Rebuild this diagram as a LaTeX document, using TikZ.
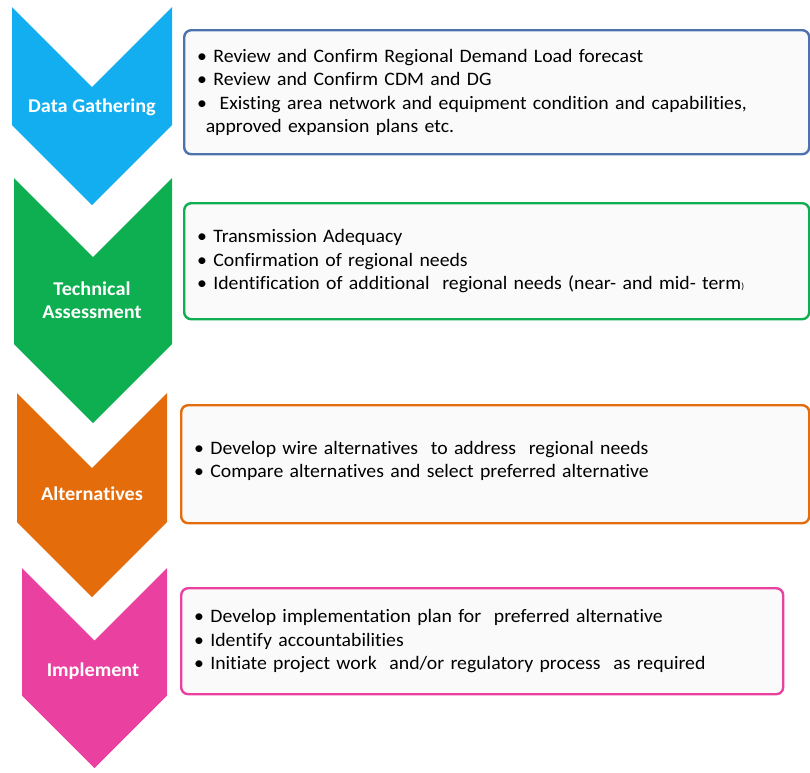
\documentclass[tikz,border=0pt]{standalone}
\usepackage{fontspec}
\setmainfont{Carlito}[Ligatures=NoCommon, FakeStretch=1.04]

\definecolor{gatherblue}{HTML}{12AEEF}
\definecolor{assessgreen}{HTML}{0DAF50}
\definecolor{altorange}{HTML}{E46C0A}
\definecolor{implpink}{HTML}{EA41A0}
\definecolor{gatherframe}{HTML}{4E72AE}

\begin{document}
\begin{tikzpicture}[x=1pt, y=-1pt,
        steplabel/.style={text=white, font=\bfseries\fontsize{19.5}{23}\selectfont, align=center},
        infobox/.style={draw=#1, line width=2.4pt, rounded corners=7pt, fill=black!2,
                        anchor=north west, align=left, inner xsep=13pt,
                        font=\fontsize{19}{23.5}\selectfont}
    ]
    \useasboundingbox (0,0) rectangle (810,772);
    % the four chevrons: left, right, top, tip, colour
    \foreach \xl/\xr/\ytop/\ytip/\col in {12/172/7/205/gatherblue, 14/172/178/423/assessgreen,
                                        17/167/393/597/altorange, 22/167/568/768/implpink} {
        \fill [\col] (\xl,\ytop) -- ({(\xl+\xr)/2},{\ytop+(\xr-\xl)/2}) -- (\xr,\ytop)
            -- (\xr,{\ytip-(\xr-\xl)/2}) -- ({(\xl+\xr)/2},\ytip)
            -- (\xl,{\ytip-(\xr-\xl)/2}) -- cycle;
    }
    \node [steplabel] (gather) at (92,107) {Data Gathering};
    \node [steplabel] (assess) at (92,300) {Technical\\Assessment};
    \node [steplabel] (alter)  at (92,494) {Alternatives};
    \node [steplabel] (impl)   at (93,671) {Implement};

    % boxes with the bullet lists
    \node [infobox=gatherframe, text width=599pt, minimum height=124pt] (gatherbox) at (183,29) {%
        • Review and Confirm Regional Demand Load forecast\\
        • Review and Confirm CDM and DG\\
        • \ Existing area network and equipment condition and capabilities,\\
        \hspace*{0.45em}approved expansion plans etc.};
    \node [infobox=assessgreen, text width=599pt, minimum height=116pt] (assessbox) at (183,202) {%
        • Transmission Adequacy\\
        • Confirmation of regional needs\\
        • Identification of additional \ regional needs (near- and mid- term{\small)}};
    \node [infobox=altorange, text width=602pt, minimum height=118pt] (alterbox) at (180,404) {%
        • Develop wire alternatives \ to address \ regional needs\\
        • Compare alternatives and select preferred alternative\\[-13.5pt]\mbox{}};
    \node [infobox=implpink, text width=576pt, minimum height=106pt] (implbox) at (180,587) {%
        • Develop implementation plan for \ preferred alternative\\
        • Identify accountabilities\\
        • Initiate project work \ and/or regulatory process \ as required};
\end{tikzpicture}
\end{document}
